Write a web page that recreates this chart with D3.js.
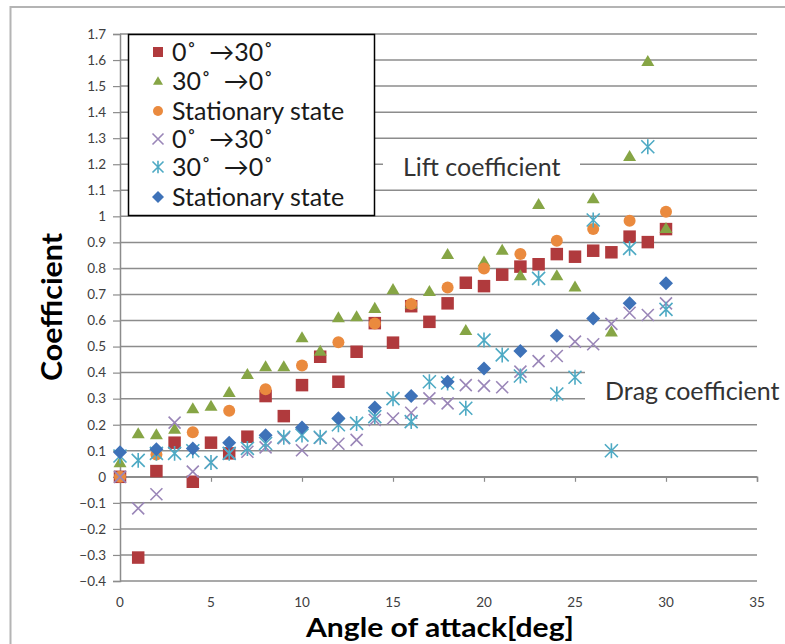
<!DOCTYPE html>
<html><head><meta charset="utf-8">
<script src="https://cdn.jsdelivr.net/npm/d3@7"></script>
<style>body{margin:0;background:#fff} svg{display:block} text{white-space:pre}</style>
</head><body><svg id="c" width="785" height="644"></svg>
<script>
const anglesAll = [0,1,2,3,4,5,6,7,8,9,10,11,12,13,14,15,16,17,18,19,20,21,22,23,24,25,26,27,28,29,30];
const anglesEven = [0,2,4,6,8,10,12,14,16,18,20,22,24,26,28,30];
const liftUp = [0,-0.31,0.022,0.131,-0.019,0.131,0.09,0.154,0.31,0.233,0.352,0.461,0.365,0.48,0.59,0.515,0.655,0.595,0.666,0.745,0.732,0.776,0.807,0.816,0.855,0.845,0.868,0.862,0.922,0.901,0.951];
const liftDown = [0.055,0.167,0.163,0.184,0.263,0.272,0.325,0.394,0.424,0.424,0.535,0.483,0.612,0.616,0.648,0.72,0.665,0.713,0.855,0.563,0.826,0.871,0.773,1.047,0.773,0.73,1.069,0.557,1.231,1.596,0.955];
const liftStat = [0,0.086,0.171,0.254,0.336,0.427,0.517,0.589,0.663,0.727,0.80,0.855,0.906,0.951,0.983,1.018];
const dragUp = [0,-0.121,-0.067,0.208,0.02,0.055,0.09,0.096,0.113,0.148,0.102,0.15,0.127,0.142,0.218,0.224,0.246,0.301,0.282,0.352,0.349,0.344,0.404,0.444,0.464,0.519,0.509,0.587,0.63,0.621,0.666];
const dragDown = [0.08,0.063,0.09,0.09,0.1,0.055,0.09,0.109,0.128,0.152,0.16,0.152,0.2,0.205,0.231,0.30,0.212,0.365,0.36,0.263,0.525,0.468,0.387,0.762,0.318,0.382,0.986,0.10,0.877,1.267,0.643];
const dragStat = [0.094,0.106,0.109,0.131,0.16,0.189,0.225,0.266,0.31,0.365,0.416,0.483,0.542,0.608,0.666,0.743];
const yTicks = [-0.4,-0.3,-0.2,-0.1,0,0.1,0.2,0.3,0.4,0.5,0.6,0.7,0.8,0.9,1,1.1,1.2,1.3,1.4,1.5,1.6,1.7];
const xTicks = [0,5,10,15,20,25,30,35];
const legendLabels = ["0˚  →30˚","30˚  →0˚","Stationary state","0˚  →30˚","30˚  →0˚","Stationary state"];

const FONT = "Lato, 'Open Sans', sans-serif";
const svg = d3.select("#c");
const x = d3.scaleLinear().domain([0,35]).range([120,757]);
const y = d3.scaleLinear().domain([-0.4,1.7]).range([581,34]);

// outer border
svg.append("rect").attr("x",10.5).attr("y",7).attr("width",800).attr("height",700)
  .attr("fill","#fff").attr("stroke","#b4b4b4").attr("stroke-width",2);

// gridlines
svg.append("g").selectAll("line").data(yTicks).join("line")
  .attr("x1",120).attr("x2",757).attr("y1",d=>y(d)).attr("y2",d=>y(d))
  .attr("stroke","#8c8c8c").attr("stroke-width",1.5);

// y axis
const yAxis = d3.axisLeft(y).tickValues(yTicks).tickSize(7).tickPadding(7).tickFormat(d=>d3.format("")(+d.toFixed(1)));
const gy = svg.append("g").attr("transform","translate(120,0)").call(yAxis);
gy.select(".domain").attr("stroke","#8c8c8c").attr("stroke-width",1.5);
gy.selectAll(".tick line").attr("stroke","#8c8c8c").attr("stroke-width",1.2);
gy.selectAll("text").attr("font-family",FONT).attr("font-size",13.5).attr("fill","#404040");

// x axis at y=0 (ticks only) and labels low
const xAxis = d3.axisBottom(x).tickValues(xTicks).tickSize(5).tickFormat("");
const gx = svg.append("g").attr("transform",`translate(0,${y(0)})`).call(xAxis);
gx.select(".domain").attr("stroke","#8c8c8c").attr("stroke-width",1.5);
gx.selectAll(".tick line").attr("stroke","#8c8c8c").attr("stroke-width",1.2);
svg.append("g").selectAll("text").data(xTicks).join("text")
  .attr("x",d=>x(d)).attr("y",607).attr("text-anchor","middle")
  .attr("font-family",FONT).attr("font-size",13.5).attr("fill","#404040").text(d=>d);

// marker shapes
function shape(type, s){
  const h = s/2;
  switch(type){
    case "square": return `M${-h},${-h}H${h}V${h}H${-h}Z`;
    case "triangle": return `M0,${-h*0.95}L${h},${h*0.75}L${-h},${h*0.75}Z`;
    case "circle": return d3.symbol(d3.symbolCircle, Math.PI*h*h)();
    case "diamond": return `M0,${-h}L${h},0L0,${h}L${-h},0Z`;
    case "x": return `M${-h},${-h}L${h},${h}M${h},${-h}L${-h},${h}`;
    case "star": return `M${-h},${-h}L${h},${h}M${h},${-h}L${-h},${h}M0,${-h*1.15}V${h*1.15}`;
  }
}
const series = [
  {xs:anglesAll, ys:liftUp, type:"square", size:12.5, color:"#b03a3d"},
  {xs:anglesAll, ys:liftDown, type:"triangle", size:13, color:"#86a545"},
  {xs:anglesEven, ys:liftStat, type:"circle", size:12, color:"#ea8a3e"},
  {xs:anglesAll, ys:dragUp, type:"x", size:12, color:"#9a86b8"},
  {xs:anglesAll, ys:dragDown, type:"star", size:13, color:"#4eaac4"},
  {xs:anglesEven, ys:dragStat, type:"diamond", size:14, color:"#3e72b8"}
];
function styleMarker(sel, s){
  if(s.type==="x"||s.type==="star") sel.attr("fill","none").attr("stroke",s.color).attr("stroke-width",1.6);
  else sel.attr("fill",s.color).attr("stroke","none");
}
series.forEach(s=>{
  const pts = s.xs.map((a,i)=>[a,s.ys[i]]);
  svg.append("g").selectAll("path").data(pts).join("path")
    .attr("transform",d=>`translate(${x(d[0])},${y(d[1])})`)
    .attr("d",shape(s.type,s.size)).call(styleMarker,s);
});

// legend
const lg = svg.append("g");
lg.append("rect").attr("x",128.5).attr("y",34.5).attr("width",246).attr("height",181)
  .attr("fill","#fff").attr("stroke","#000").attr("stroke-width",1.5);
const rowY = [52,81,111,139,167,197];
series.forEach((s,i)=>{
  lg.append("path").attr("transform",`translate(158,${rowY[i]})`).attr("d",shape(s.type,s.type==="x"||s.type==="star"?11:s.type==="diamond"?12:10)).call(styleMarker,s);
  lg.append("text").attr("x",172).attr("y",rowY[i]+9).attr("font-family",FONT).attr("font-size",25)
    .attr("fill","#1a1a1a").text(legendLabels[i]);
});

// annotation boxes
svg.append("rect").attr("x",383).attr("y",146).attr("width",197).attr("height",38).attr("fill","#fff");
svg.append("text").attr("x",403).attr("y",176).attr("font-family",FONT).attr("font-size",25).attr("fill","#333").text("Lift coefficient");
svg.append("rect").attr("x",585).attr("y",358).attr("width",200).attr("height",54).attr("fill","#fff");
svg.append("text").attr("x",605).attr("y",400).attr("font-family",FONT).attr("font-size",25).attr("fill","#333").text("Drag coefficient");

// axis titles
svg.append("text").attr("x",440).attr("y",637).attr("text-anchor","middle").attr("font-family",FONT)
  .attr("font-weight","bold").attr("font-size",26).attr("textLength",268).attr("lengthAdjust","spacingAndGlyphs")
  .attr("fill","#000").text("Angle of attack[deg]");
svg.append("text").attr("transform","translate(62,307) rotate(-90)").attr("text-anchor","middle").attr("font-family",FONT)
  .attr("font-weight","bold").attr("font-size",28).attr("textLength",148).attr("lengthAdjust","spacingAndGlyphs")
  .attr("fill","#000").text("Coefficient");
</script></body></html>
